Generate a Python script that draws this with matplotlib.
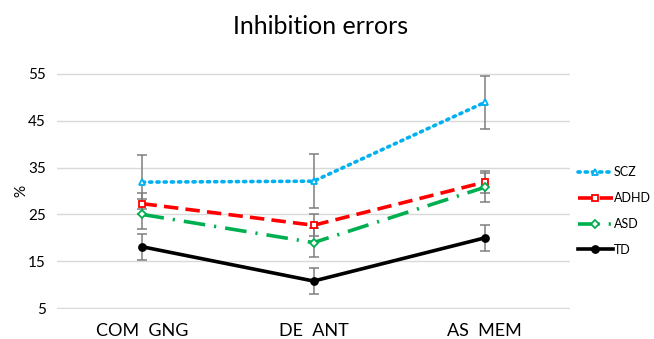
import matplotlib.pyplot as plt

plt.rcParams["font.family"] = ["Lato", "DejaVu Sans"]

# Inhibition errors by task and group (mean % with error bars)
tasks = ["COM  GNG", "DE  ANT", "AS  MEM"]
groups = ["SCZ", "ADHD", "ASD", "TD"]
scz = [31.9, 32.1, 48.9]
adhd = [27.3, 22.7, 31.9]
asd = [25.0, 19.0, 30.8]
td = [18.1, 10.8, 20.0]
scz_err = [5.8, 5.8, 5.6]
adhd_err = [2.2, 2.3, 2.4]
asd_err = [3.2, 3.1, 3.1]
td_err = [2.8, 2.8, 2.8]

fig = plt.figure(figsize=(6.54, 3.39), dpi=100)
ax = fig.add_axes([0.087, 0.088, 0.785, 0.697])

x = range(len(tasks))
series = [
    (scz, scz_err, "#00B0F0", (0, (0.6, 1.4)), "^", "white"),
    (adhd, adhd_err, "#FF0000", (0, (4, 2)), "s", "white"),
    (asd, asd_err, "#00B050", (0, (6, 2.5, 0.6, 2.5)), "D", "white"),
    (td, td_err, "black", "-", "o", "black"),
]
for (vals, err, col, ls, mk, mfc), name in zip(series, groups):
    ax.errorbar(x, vals, yerr=err, fmt="none", ecolor="#7f7f7f",
                elinewidth=1.1, capsize=3.5, capthick=1.1, zorder=2)
    ms = 4 if mk == "D" else 5
    ax.plot(x, vals, color=col, linestyle=ls, linewidth=2.6, marker=mk,
            markersize=ms, markerfacecolor=mfc, markeredgecolor=col,
            markeredgewidth=1.3, label=name, zorder=3,
            dash_capstyle="round" if name == "SCZ" else "butt")

ax.set_xlim(-0.5, 2.5)
ax.set_ylim(4.8, 55.2)
ax.set_yticks([5, 15, 25, 35, 45, 55])
ax.set_xticks(list(x))
ax.set_xticklabels(tasks, fontsize=13)
ax.tick_params(axis="y", labelsize=11, length=0, pad=8)
ax.tick_params(axis="x", length=0, pad=10)
ax.grid(axis="y", color="#d9d9d9", linewidth=1)
ax.set_axisbelow(True)
for s in ax.spines.values():
    s.set_visible(False)
ax.set_ylabel("%", fontsize=11, labelpad=0)

fig.suptitle("Inhibition errors", fontsize=18, x=0.49, y=0.955)
ax.legend(loc="upper left", bbox_to_anchor=(1.005, 0.625), frameon=False,
          fontsize=9, handlelength=2.8, labelspacing=1.1, borderaxespad=0,
          handletextpad=0.1)

fig.savefig("out.png", dpi=100)
